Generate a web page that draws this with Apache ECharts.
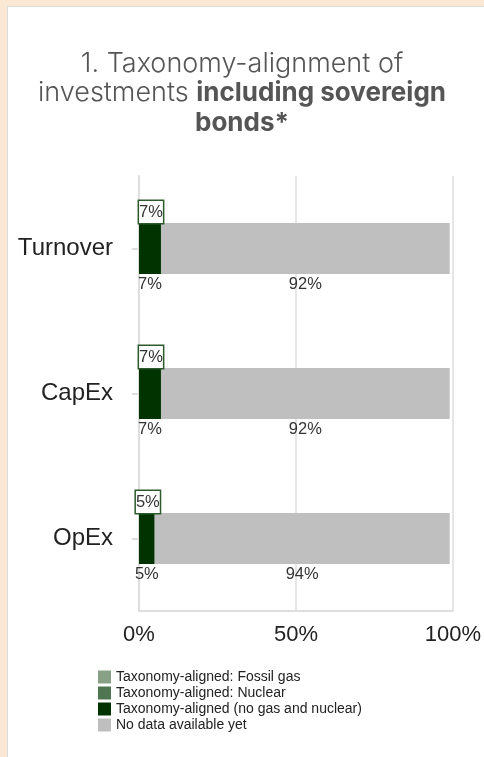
<!DOCTYPE html>
<html>
<head>
<meta charset="utf-8">
<script src="https://cdn.jsdelivr.net/npm/echarts@6/dist/echarts.min.js"></script>
<style>
  html, body { margin: 0; padding: 0; background: #fae8d5; }
  .card {
    position: absolute; left: 7px; top: 6px; width: 490px; height: 760px;
    background: #fff; border: 1px solid #dcdcdc; box-sizing: border-box;
  }
  #chart { position: absolute; left: 0; top: 0; width: 484px; height: 757px; }
</style>
</head>
<body>
<div class="card"></div>
<div id="chart"></div>
<script>
const categories = ['Turnover', 'CapEx', 'OpEx'];
const fossilGas = [0, 0, 0];
const nuclear = [0, 0, 0];
const alignedOther = [7, 7, 5];
const noData = [92, 92, 94];
const xTicks = [0, 50, 100];

const colors = {
  fossil: '#87a086',
  nuclear: '#4f7551',
  aligned: '#013300',
  noData: '#bfbfbf'
};

const chart = echarts.init(document.getElementById('chart'));

const pctLabel = (p) => p.value + '%';

chart.setOption({
  animation: false,
  title: {
    left: 'center',
    top: 44,
    text: '{n|1. Taxonomy-alignment of}\n{n|investments }{b|including sovereign}\n{b|bonds*}',
    textStyle: {
      rich: {
        n: { fontFamily: 'Inter', fontSize: 27, color: '#555', fontWeight: 300, lineHeight: 29.5 },
        b: { fontFamily: 'Inter', fontSize: 26, color: '#555', fontWeight: 'bold', lineHeight: 29.5 }
      }
    }
  },
  legend: {
    orient: 'vertical',
    left: 98,
    top: 670,
    padding: 0,
    itemWidth: 13,
    itemHeight: 13,
    itemGap: 2,
    icon: 'rect',
    data: ['Taxonomy-aligned: Fossil gas', 'Taxonomy-aligned: Nuclear',
      'Taxonomy-aligned (no gas and nuclear)', 'No data available yet'],
    textStyle: { fontFamily: 'Liberation Sans', fontSize: 14, color: '#222', padding: [0, 0, 0, 0] }
  },
  grid: { left: 139, right: 31, top: 176, bottom: 146 },
  xAxis: {
    type: 'value',
    min: 0,
    max: 100,
    interval: 50,
    axisLine: { show: true, lineStyle: { color: '#dedede', width: 2 } },
    axisTick: { show: false },
    splitLine: { lineStyle: { color: '#e6e6e6', width: 2 } },
    axisLabel: {
      formatter: (v) => (xTicks.includes(v) ? v + '%' : ''),
      fontFamily: 'Liberation Sans', fontSize: 22, color: '#222', margin: 13
    }
  },
  yAxis: {
    type: 'category',
    inverse: true,
    data: categories,
    axisLine: { show: true, lineStyle: { color: '#dedede', width: 2 } },
    axisTick: { show: true, alignWithLabel: true, length: 7, lineStyle: { color: '#dedede', width: 2 } },
    axisLabel: { fontFamily: 'Liberation Sans', fontSize: 24, color: '#222', margin: 26 }
  },
  series: [
    {
      name: 'Taxonomy-aligned: Fossil gas', type: 'bar', stack: 'a', barWidth: 51,
      data: fossilGas, itemStyle: { color: colors.fossil }
    },
    {
      name: 'Taxonomy-aligned: Nuclear', type: 'bar', stack: 'a',
      data: nuclear, itemStyle: { color: colors.nuclear }
    },
    {
      name: 'Taxonomy-aligned (no gas and nuclear)', type: 'bar', stack: 'a',
      data: alignedOther, itemStyle: { color: colors.aligned },
      label: {
        show: true, position: 'bottom', distance: 2, formatter: pctLabel,
        fontFamily: 'Liberation Sans', fontSize: 16.5, color: '#333'
      }
    },
    {
      name: 'No data available yet', type: 'bar', stack: 'a',
      data: noData, itemStyle: { color: colors.noData },
      label: {
        show: true, position: 'bottom', distance: 2, formatter: pctLabel,
        fontFamily: 'Liberation Sans', fontSize: 16.5, color: '#333'
      }
    },
    {
      // boxed label above the aligned segment
      name: 'aligned-top', type: 'bar', stack: 'b', barGap: '-100%', barWidth: 51,
      data: alignedOther, itemStyle: { color: 'rgba(0,0,0,0)' },
      silent: true,
      label: {
        show: true, position: 'top', distance: 0, offset: [1, 0], formatter: pctLabel,
        fontFamily: 'Liberation Sans', fontSize: 16.5, color: '#333',
        borderColor: '#2c5a2c', borderWidth: 1.5, padding: [3, 0, 2, 0],
        backgroundColor: '#fff'
      }
    }
  ]
});
</script>
</body>
</html>
